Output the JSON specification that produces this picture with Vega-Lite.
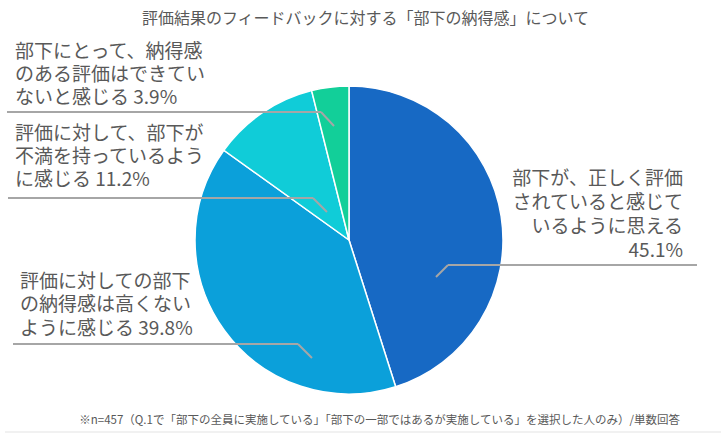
{
  "$schema": "https://vega.github.io/schema/vega-lite/v6.json",
  "width": 721,
  "height": 440,
  "autosize": {"type": "none"},
  "padding": 0,
  "background": "#ffffff",
  "config": {"view": {"stroke": null}, "font": "Noto Sans CJK JP"},
  "title": {
    "text": "評価結果のフィードバックに対する「部下の納得感」について",
    "font": "Noto Sans CJK JP",
    "fontSize": 16,
    "fontWeight": "normal",
    "color": "#595959",
    "anchor": "middle",
    "dx": 5,
    "offset": -27
  },
  "data": {
    "values": [
      {"category": "部下が、正しく評価されていると感じているように思える", "label": "部下が、正しく評価\nされていると感じて\nいるように思える\n", "value": 45.1, "order": 1},
      {"category": "評価に対しての部下の納得感は高くないように感じる", "label": "評価に対しての部下\nの納得感は高くない\nように感じる ", "value": 39.8, "order": 2},
      {"category": "評価に対して、部下が不満を持っているように感じる", "label": "評価に対して、部下が\n不満を持っているよう\nに感じる ", "value": 11.2, "order": 3},
      {"category": "部下にとって、納得感のある評価はできていないと感じる", "label": "部下にとって、納得感\nのある評価はできてい\nないと感じる ", "value": 3.9, "order": 4}
    ]
  },
  "transform": [
    {"calculate": "datum.label + format(datum.value, '.1f') + '%'", "as": "txt"}
  ],
  "layer": [
    {
      "mark": {"type": "arc", "outerRadius": 154, "stroke": "#ffffff", "strokeWidth": 1.5},
      "encoding": {
        "theta": {"field": "value", "type": "quantitative", "stack": true},
        "order": {"field": "order", "type": "quantitative", "sort": "ascending"},
        "color": {
          "field": "category",
          "type": "nominal",
          "scale": {
            "domain": ["部下が、正しく評価されていると感じているように思える", "評価に対しての部下の納得感は高くないように感じる", "評価に対して、部下が不満を持っているように感じる", "部下にとって、納得感のある評価はできていないと感じる"],
            "range": ["#1769C4", "#0BA0DA", "#10CCD8", "#12CF99"]
          },
          "legend": null
        },
        "x": {"datum": 0, "type": "quantitative", "scale": {"domain": [-226.62, 241.56], "nice": false, "zero": false}, "axis": null},
        "y": {"datum": 0, "type": "quantitative", "scale": {"domain": [-129.87, 155.84], "nice": false, "zero": false}, "axis": null}
      }
    },
    {
      "transform": [{"filter": "datum.order == 1"}],
      "layer": [
        {"mark": {"type": "rule", "color": "#A6A6A6", "strokeWidth": 2},
         "encoding": {"x": {"datum": 56.49, "type": "quantitative"}, "y": {"datum": -24.03, "type": "quantitative"}, "x2": {"datum": 64.29}, "y2": {"datum": -16.23}}},
        {"mark": {"type": "rule", "color": "#A6A6A6", "strokeWidth": 2},
         "encoding": {"x": {"datum": 64.29, "type": "quantitative"}, "y": {"datum": -16.23, "type": "quantitative"}, "x2": {"datum": 225.97}, "y2": {"datum": -16.23}}},
        {"mark": {"type": "text", "align": "right", "baseline": "middle", "lineBreak": "\n", "fontSize": 19, "lineHeight": 24, "font": "Noto Sans CJK JP", "color": "#595959"},
         "encoding": {"text": {"field": "txt"}, "x": {"datum": 216.88, "type": "quantitative"}, "y": {"datum": 39.61, "type": "quantitative"}}}
      ]
    },
    {
      "transform": [{"filter": "datum.order == 2"}],
      "layer": [
        {"mark": {"type": "rule", "color": "#A6A6A6", "strokeWidth": 2},
         "encoding": {"x": {"datum": -24.03, "type": "quantitative"}, "y": {"datum": -76.62, "type": "quantitative"}, "x2": {"datum": -33.12}, "y2": {"datum": -67.53}}},
        {"mark": {"type": "rule", "color": "#A6A6A6", "strokeWidth": 2},
         "encoding": {"x": {"datum": -33.12, "type": "quantitative"}, "y": {"datum": -67.53, "type": "quantitative"}, "x2": {"datum": -218.18}, "y2": {"datum": -67.53}}},
        {"mark": {"type": "text", "align": "left", "baseline": "middle", "lineBreak": "\n", "fontSize": 19, "lineHeight": 23.5, "font": "Noto Sans CJK JP", "color": "#595959"},
         "encoding": {"text": {"field": "txt"}, "x": {"datum": -213.64, "type": "quantitative"}, "y": {"datum": -27.27, "type": "quantitative"}}}
      ]
    },
    {
      "transform": [{"filter": "datum.order == 3"}],
      "layer": [
        {"mark": {"type": "rule", "color": "#A6A6A6", "strokeWidth": 2},
         "encoding": {"x": {"datum": -14.29, "type": "quantitative"}, "y": {"datum": 18.18, "type": "quantitative"}, "x2": {"datum": -23.38}, "y2": {"datum": 27.27}}},
        {"mark": {"type": "rule", "color": "#A6A6A6", "strokeWidth": 2},
         "encoding": {"x": {"datum": -23.38, "type": "quantitative"}, "y": {"datum": 27.27, "type": "quantitative"}, "x2": {"datum": -221.43}, "y2": {"datum": 27.27}}},
        {"mark": {"type": "text", "align": "left", "baseline": "middle", "lineBreak": "\n", "fontSize": 19, "lineHeight": 23, "font": "Noto Sans CJK JP", "color": "#595959"},
         "encoding": {"text": {"field": "txt"}, "x": {"datum": -216.88, "type": "quantitative"}, "y": {"datum": 68.83, "type": "quantitative"}}}
      ]
    },
    {
      "transform": [{"filter": "datum.order == 4"}],
      "layer": [
        {"mark": {"type": "rule", "color": "#A6A6A6", "strokeWidth": 2},
         "encoding": {"x": {"datum": -9.74, "type": "quantitative"}, "y": {"datum": 74.03, "type": "quantitative"}, "x2": {"datum": -18.18}, "y2": {"datum": 83.12}}},
        {"mark": {"type": "rule", "color": "#A6A6A6", "strokeWidth": 2},
         "encoding": {"x": {"datum": -18.18, "type": "quantitative"}, "y": {"datum": 83.12, "type": "quantitative"}, "x2": {"datum": -222.08}, "y2": {"datum": 83.12}}},
        {"mark": {"type": "text", "align": "left", "baseline": "middle", "lineBreak": "\n", "fontSize": 19, "lineHeight": 23, "font": "Noto Sans CJK JP", "color": "#595959"},
         "encoding": {"text": {"field": "txt"}, "x": {"datum": -216.88, "type": "quantitative"}, "y": {"datum": 122.08, "type": "quantitative"}}}
      ]
    },
    {
      "data": {"values": [{"note": "※n=457（Q.1で「部下の全員に実施している」「部下の一部ではあるが実施している」を選択した人のみ）/単数回答"}]},
      "layer": [
        {"mark": {"type": "text", "align": "right", "baseline": "middle", "fontSize": 11.5, "font": "Noto Sans CJK JP", "color": "#595959"},
         "encoding": {"text": {"field": "note"}, "x": {"datum": 214.94, "type": "quantitative"}, "y": {"datum": -117.53, "type": "quantitative"}}},
        {"mark": {"type": "rule", "color": "#E3E3E3", "strokeWidth": 1},
         "encoding": {"x": {"datum": -223.38, "type": "quantitative"}, "y": {"datum": -124.68, "type": "quantitative"}, "x2": {"datum": 241.56}, "y2": {"datum": -124.68}}}
      ]
    }
  ]
}
